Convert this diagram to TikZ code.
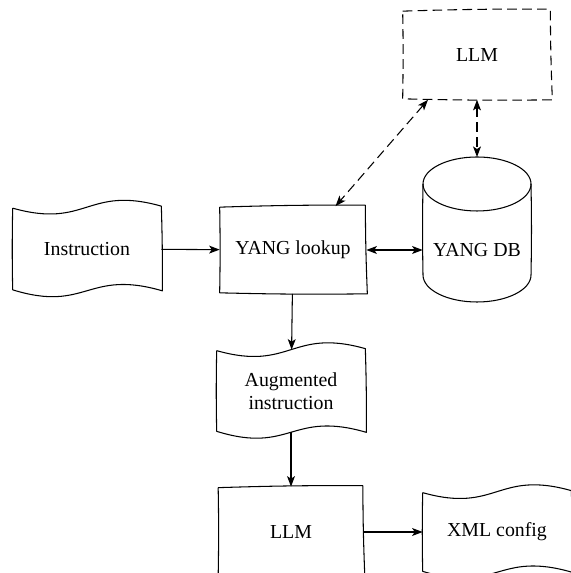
\documentclass[tikz,border=0pt]{standalone}
\usepackage{fontspec}
\setmainfont{Liberation Serif}
\usetikzlibrary{positioning, calc, arrows.meta}

\tikzset{
  box/.style={inner sep=0pt, align=center, font=\fontsize{11.3}{13}\selectfont},
  hand/.style={line width=0.6pt, line join=round},
  tip/.style={line width=0.6pt, -{Stealth[length=6pt, width=4.5pt, inset=1.5pt]}},
  twotip/.style={line width=0.6pt, {Stealth[length=6pt, width=4.5pt, inset=1.5pt]}-{Stealth[length=6pt, width=4.5pt, inset=1.5pt]}},
  dashline/.style={dash pattern=on 5.5pt off 3pt},
}

% box with slightly bent sides
\newcommand{\handbox}[2][]{%
  \draw[hand,#1] ($(#2.north west)+(0,-1)$) to[bend left=1] ($(#2.north east)+(-1,1)$)
    to[bend right=1] ($(#2.south east)+(1,0)$) to[bend left=1] ($(#2.south west)+(0,1)$)
    to[bend right=1] ($(#2.north west)+(0,-1)$);}

% tape with wavy top and bottom
\newcommand{\tapebox}[1]{%
  \draw[hand] ($(#1.north west)+(0,-1)$)
    .. controls ($(#1.north)+(0,-22)$) and ($(#1.north)+(0,22)$) .. ($(#1.north east)+(0,1)$)
    to[bend left=1] ($(#1.south east)+(1,0)$)
    .. controls ($(#1.south)+(0,22)$) and ($(#1.south)+(0,-22)$) .. ($(#1.south west)+(0,1)$)
    to[bend left=1] ($(#1.north west)+(0,-1)$);}

% database drum
\newcommand{\drum}[1]{%
  \draw[hand] ($(#1.center)+(-54,66)$) to[bend right=1] ($(#1.center)+(-54,-25)$)
    arc[start angle=180, end angle=360, x radius=54, y radius=27]
    to[bend right=1] ($(#1.center)+(54,66)$);
  \draw[hand] ($(#1.center)+(0,66)$) ellipse [x radius=54, y radius=27];}

\begin{document}
\begin{tikzpicture}[x=0.02cm, y=0.02cm]
\useasboundingbox (0,0) rectangle (570,573);

\node[box, minimum width=2.96cm, minimum height=1.66cm] (instr) at (87,324) {Instruction};
\node[box, minimum width=2.92cm, minimum height=1.74cm] (lookup) at (293,323) {YANG lookup};
\node[box, minimum width=2.16cm, minimum height=1.0cm] (db) at (477,323) {YANG DB};
\node[box, minimum width=2.96cm, minimum height=1.78cm] (llmtop) at (477,518) {LLM};
\node[box, minimum width=2.96cm, minimum height=1.64cm] (aug) at (291,182) {Augmented\\instruction};
\node[box, minimum width=2.90cm, minimum height=1.80cm] (llm) at (291,41) {LLM};
\node[box, minimum width=2.96cm, minimum height=1.60cm] (xml) at (497,41) {XML config};
\coordinate (dbtop) at ($(db.center)+(0,93)$);

\tapebox{instr}
\handbox{lookup}
\drum{db}
\handbox[dashline]{llmtop}
\tapebox{aug}
\handbox{llm}
\tapebox{xml}

\draw[tip] (instr) -- (lookup);
\draw[twotip] (lookup) -- (db);
\draw[tip] (lookup) -- (aug);
\draw[tip] (aug) -- (llm);
\draw[tip] (llm) -- (xml);

% retrieval links to the upper model
\draw[twotip, dashline] ($(llmtop.south)!0.66!(llmtop.south west)$) -- ($(lookup.north)!0.58!(lookup.north east)$);
\draw[twotip, dashline] (llmtop.south) -- (dbtop);

\end{tikzpicture}
\end{document}
